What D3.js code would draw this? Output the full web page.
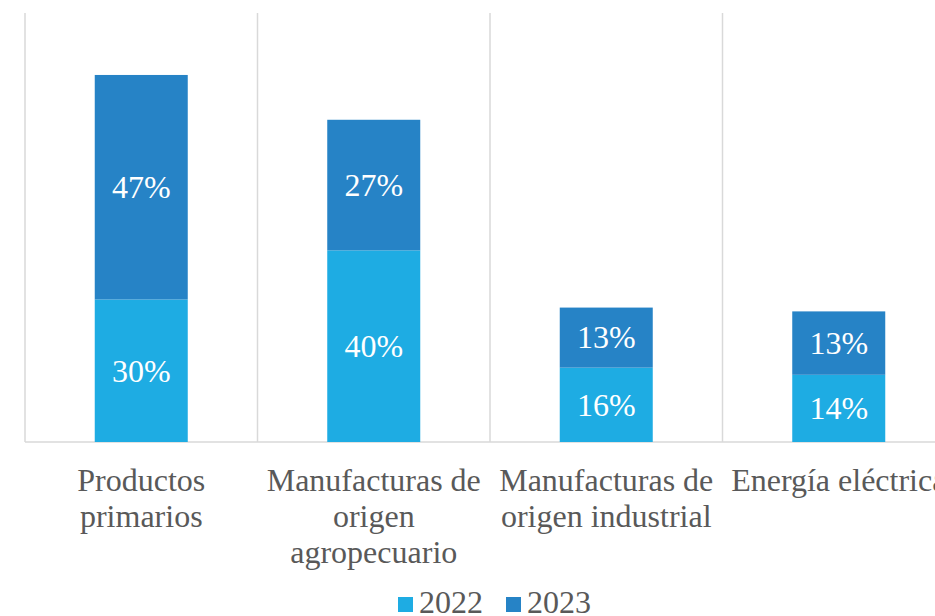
<!DOCTYPE html>
<html>
<head>
<meta charset="utf-8">
<script src="https://cdn.jsdelivr.net/npm/d3@7"></script>
<style>
	html, body {margin: 0; padding: 0; background: #fff; overflow: hidden;}
	svg {display: block;}
	text {font-family: "Liberation Serif", "Times New Roman", serif;}
</style>
</head>
<body>
<div id="chart"></div>
<script>

// Values (share of exports, %). Labels show them rounded.
let categories = ["Productos primarios", "Manufacturas de origen agropecuario", "Manufacturas de origen industrial", "Energía eléctrica"];
let values2022 = [29.9, 40.2, 15.6, 14.1];
let values2023 = [47.1, 27.4, 12.6, 13.3];
let seriesNames = ["2022", "2023"];
let seriesColors = ["#1eace3", "#2683c6"];


// Layout, roughly what the original office chart uses.
let width = 935, height = 616;
let plot = {left: 25, right: 955, top: 13, bottom: 442};
let fontSize = 32;
let textColor = "#595959";
let gridColor = "#d9d9d9";


// Stack the two years on top of each other.
let rows = categories.map((c,i)=>({category: c, "2022": values2022[i], "2023": values2023[i]}));
let stacked = d3.stack().keys(seriesNames)(rows);


let x = d3.scaleBand()
  .domain(categories)
  .range([plot.left, plot.right])
  .paddingInner(0.6)
  .paddingOuter(0.3);

let y = d3.scaleLinear()
  .domain([0, 90])
  .range([plot.bottom, plot.top]);

let color = d3.scaleOrdinal().domain(seriesNames).range(seriesColors);


let svg = d3.select("#chart")
  .append("svg")
  .attr("width", width)
  .attr("height", height);


// Vertical separators between the categories - the category axis tick marks run the full height.
let step = x.step();
let separators = d3.range(categories.length + 1).map(i=>plot.left + i*step);

svg.append("g")
  .attr("class", "grid")
  .selectAll("line")
  .data(separators)
  .join("line")
    .attr("x1", d=>d)
    .attr("x2", d=>d)
    .attr("y1", plot.top)
    .attr("y2", plot.bottom)
    .attr("stroke", gridColor)
    .attr("stroke-width", 1.5);

svg.append("line")
  .attr("x1", plot.left)
  .attr("x2", plot.right)
  .attr("y1", y(0))
  .attr("y2", y(0))
  .attr("stroke", gridColor)
  .attr("stroke-width", 1.5);


// Bars.
let layers = svg.append("g")
  .attr("class", "bars")
  .selectAll("g")
  .data(stacked)
  .join("g")
    .attr("fill", d=>color(d.key));

layers.selectAll("rect")
  .data(d=>d)
  .join("rect")
    .attr("x", d=>x(d.data.category))
    .attr("width", x.bandwidth())
    .attr("y", d=>y(d[1]))
    .attr("height", d=>y(d[0]) - y(d[1]));


// Data labels, centred in each segment.
let fmt = d=>d3.format(".0f")(d) + "%";

layers.selectAll("text")
  .data(d=>d)
  .join("text")
    .attr("x", d=>x(d.data.category) + x.bandwidth()/2)
    .attr("y", d=>(y(d[0]) + y(d[1]))/2)
    .attr("dy", "0.34em")
    .attr("text-anchor", "middle")
    .attr("fill", "#fff")
    .attr("font-size", fontSize)
    .text(d=>fmt(d[1] - d[0]));


// Category axis: labels wrapped to the width of one category, like the original.
let axis = svg.append("g")
  .attr("class", "x-axis")
  .attr("transform", `translate(0,${y(0)})`)
  .call(d3.axisBottom(x).tickSize(0).tickPadding(0));

axis.select(".domain").remove();

axis.selectAll(".tick text")
  .attr("font-size", fontSize)
  .attr("font-family", null)
  .attr("fill", textColor)
  .attr("y", 49)
  .attr("dy", 0)
  .call(wrap, step - 2);


function wrap(selection, maxWidth){
	// Break the label into lines that fit maxWidth.
	selection.each(function(){
		let text = d3.select(this);
		let words = text.text().split(/\s+/);
		let ypos = text.attr("y");
		text.text(null);
		
		let line = [];
		let lineNo = 0;
		let tspan = text.append("tspan").attr("x", 0).attr("y", ypos);
		
		words.forEach(word=>{
			line.push(word);
			tspan.text(line.join(" "));
			if(tspan.node().getComputedTextLength() > maxWidth && line.length > 1){
				line.pop();
				tspan.text(line.join(" "));
				line = [word];
				lineNo += 1;
				tspan = text.append("tspan")
				  .attr("x", 0)
				  .attr("y", +ypos + lineNo*36)
				  .text(word);
			} // if
		})
	})
} // wrap


// Legend at the bottom.
let legend = svg.append("g")
  .attr("class", "legend")
  .attr("transform", "translate(398,613)");

let items = legend.selectAll("g")
  .data(seriesNames)
  .join("g")
    .attr("transform", (d,i)=>`translate(${i*108},0)`);

items.append("rect")
  .attr("x", 0)
  .attr("y", -16)
  .attr("width", 15)
  .attr("height", 15)
  .attr("fill", d=>color(d));

items.append("text")
  .attr("x", 21)
  .attr("y", 0)
  .attr("font-size", fontSize)
  .attr("fill", textColor)
  .text(d=>d);

</script>
</body>
</html>
